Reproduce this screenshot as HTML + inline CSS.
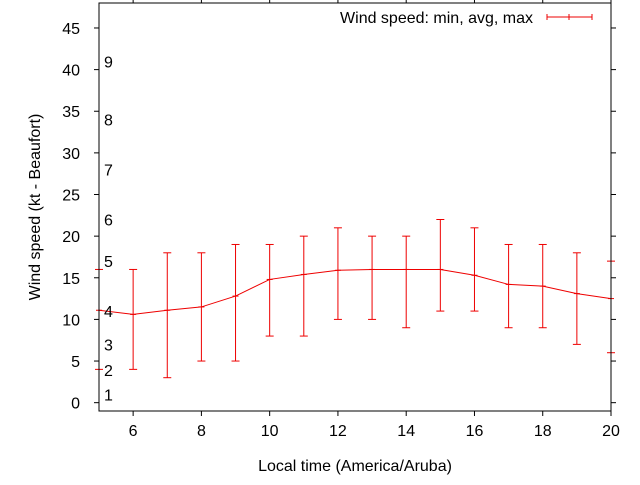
<!DOCTYPE html>
<html><head><meta charset="utf-8"><style>
body{margin:0;background:#fff;}
svg text{font-family:"Liberation Sans",sans-serif;font-size:16px;fill:#000;}
</style></head><body>
<svg width="640" height="480">
<g id="marks"></g><g id="axes"></g>
</svg>
<script>
const hours=[5,6,7,8,9,10,11,12,13,14,15,16,17,18,19,20];
const avgSpeed=[11.1,10.6,11.1,11.5,12.8,14.8,15.4,15.9,16,16,16,15.3,14.2,14,13.1,12.5];
const minSpeed=[4,4,3,5,5,8,8,10,10,9,11,11,9,9,7,6];
const maxSpeed=[16,16,18,18,19,19,20,21,20,20,22,21,19,19,18,17];
const xTicks=[6,8,10,12,14,16,18,20];
const yTicks=[0,5,10,15,20,25,30,35,40,45];
const beaufortLabels=["1","2","3","4","5","6","7","8","9"];
const beaufortValues=[1,3.9,7,11,17,22,28,34,41];
const L=99,R=611,T=3,B=411;
const xs=v=>L+(v-5)*(R-L)/15;
const ys=v=>B-(v+1)*(B-T)/49;
const NS='http://www.w3.org/2000/svg';
function mk(p,tag,at){const e=document.createElementNS(NS,tag);for(const k in at)e.setAttribute(k,at[k]);p.appendChild(e);return e;}
const ax=document.getElementById('axes'),mg=document.getElementById('marks');
const frame=mk(ax,'rect',{x:L,y:T,width:R-L,height:B-T,fill:'none',stroke:'#000','stroke-width':1});


xTicks.forEach(v=>{
 mk(ax,'line',{x1:xs(v),x2:xs(v),y1:B,y2:B+5,stroke:'#000'});
 mk(ax,'line',{x1:xs(v),x2:xs(v),y1:T,y2:T-5,stroke:'#000'});
 const t=mk(ax,'text',{x:xs(v),y:B+25,'text-anchor':'middle'});t.textContent=v;
 
 
});
yTicks.forEach(v=>{
 mk(ax,'line',{x1:L,x2:L-5,y1:ys(v),y2:ys(v),stroke:'#000'});
 mk(ax,'line',{x1:R,x2:R+5,y1:ys(v),y2:ys(v),stroke:'#000'});
 const t=mk(ax,'text',{x:L-19,y:ys(v)+6,'text-anchor':'end'});t.textContent=v;
 
 
});
beaufortLabels.forEach((s,i)=>{
 const t=mk(ax,'text',{x:104,y:ys(beaufortValues[i])+6});t.textContent=s;
 
 
});
let xt=mk(ax,'text',{x:(L+R)/2,y:471,'text-anchor':'middle'});xt.textContent='Local time (America/Aruba)';


let yt=mk(ax,'text',{x:0,y:0,'text-anchor':'middle',transform:'translate(40,207) rotate(-90)'});yt.textContent='Wind speed (kt - Beaufort)';


let lt=mk(ax,'text',{x:533,y:23,'text-anchor':'end'});lt.textContent='Wind speed: min, avg, max';


const lg=mk(ax,'g',{stroke:'#e00','stroke-width':1});


mk(lg,'line',{x1:547,x2:592,y1:17,y2:17});
[547,569,592].forEach(x=>mk(lg,'line',{x1:x,x2:x,y1:14,y2:20}));
const line=mk(mg,'polyline',{points:hours.map((h,i)=>xs(h)+','+ys(avgSpeed[i])).join(' '),fill:'none',stroke:'#e00','stroke-width':1});


hours.forEach((h,i)=>{
 const g=mk(mg,'g',{stroke:'#e00','stroke-width':1});
 
 
 const x=xs(h);
 mk(g,'line',{x1:x,x2:x,y1:ys(minSpeed[i]),y2:ys(maxSpeed[i])});
 mk(g,'line',{x1:x-4,x2:x+4,y1:ys(minSpeed[i]),y2:ys(minSpeed[i])});
 mk(g,'line',{x1:x-4,x2:x+4,y1:ys(maxSpeed[i]),y2:ys(maxSpeed[i])});
 mk(g,'line',{x1:x-3,x2:x+3,y1:ys(avgSpeed[i]),y2:ys(avgSpeed[i])});
});
</script>
</body></html>
